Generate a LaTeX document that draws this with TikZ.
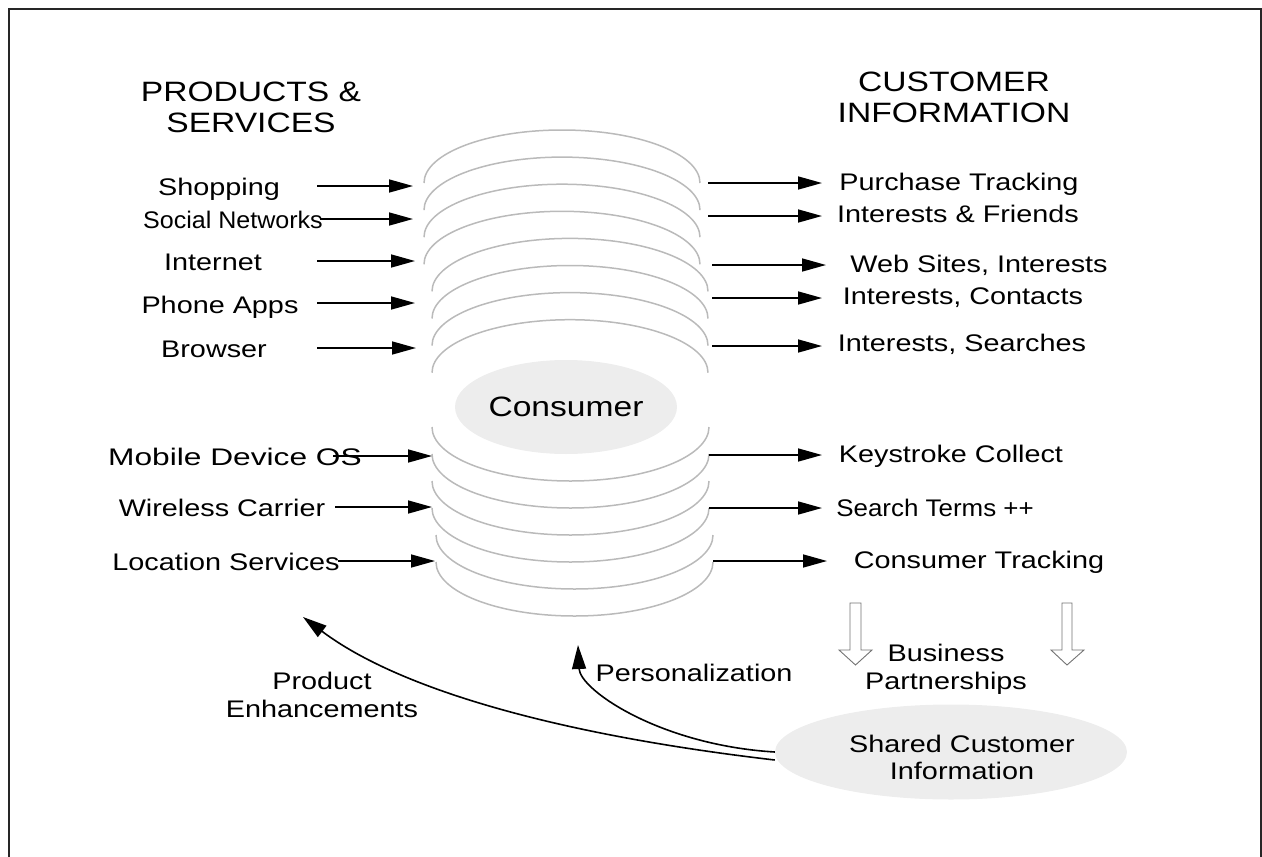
\documentclass[tikz,border=0pt]{standalone}
\usepackage{fontspec}
\setmainfont{Liberation Sans}[FakeStretch=1.2]
\usetikzlibrary{arrows.meta,shapes.geometric,calc}

\begin{document}
\begin{tikzpicture}[x=1pt,y=-1pt,
  conn/.style={line width=1.6pt,-{Triangle[length=24pt,width=13pt]}},
  curv/.style={line width=1.6pt,-{Triangle[length=24pt,width=14pt]}},
  lbl/.style={font=\fontsize{24}{28}\selectfont,anchor=mid,inner sep=0pt,yshift=-6pt},
  blocklbl/.style={font=\fontsize{24}{28}\selectfont,align=center,inner sep=0pt},
  heading/.style={font=\fontsize{28}{31}\selectfont,align=center,inner sep=0pt},
  disk/.style={draw=black!27,line width=1.5pt},
  blob/.style={ellipse,fill=black!7,inner sep=0pt},
  hollow/.style={draw=black!55,fill=white,line width=0.9pt},
  frame/.style={draw=black!85,line width=2pt}
]
\useasboundingbox (0,0) rectangle (1262,857);
\clip (0,0) rectangle (1262,857);

% outer frame (runs past the lower edge)
\draw[frame] (9,9) rectangle (1261,900);

% headings
\node[heading] (ps) at (251,107.5) {PRODUCTS \&\\SERVICES};
\node[heading] (ci) at (954,97) {CUSTOMER\\INFORMATION};

% upper half of the stack: tops of the disks
\foreach \i in {0,...,7}{
  \pgfmathsetmacro{\yy}{183+27.1*\i}
  \pgfmathsetmacro{\xl}{\i<4 ? 424 : 432}
  \draw[disk] (\xl,\yy) arc[start angle=180,end angle=360,x radius=138,y radius=53];
}
% lower half of the stack: bottoms of the disks
\foreach \i in {0,...,5}{
  \pgfmathsetmacro{\yy}{427+27*\i}
  \pgfmathsetmacro{\xl}{\i<4 ? 432 : 436}
  \draw[disk] (\xl,\yy) arc[start angle=180,end angle=0,x radius=138.5,y radius=54];
}

% centre of the stack
\node[blob,minimum width=222pt,minimum height=94pt,font=\fontsize{28}{32}\selectfont] (cons) at (566,407) {Consumer};

% products and services
\node[lbl] (shop) at (219,187) {Shopping};
\node[lbl,xscale=0.87,transform shape] (soc) at (233,220) {Social Networks};
\node[lbl] (inet) at (213,262) {Internet};
\node[lbl] (apps) at (220,305) {Phone Apps};
\node[lbl] (brow) at (214,349) {Browser};
\node[lbl,xscale=1.1,transform shape] (mos) at (235,457) {Mobile Device OS};
\node[lbl] (wire) at (222,508) {Wireless Carrier};
\node[lbl] (loc)  at (226,562) {Location Services};

% customer information
\node[lbl] (pur)  at (959,182) {Purchase Tracking};
\node[lbl] (frn)  at (958,214) {Interests \& Friends};
\node[lbl] (web)  at (979,264) {Web Sites, Interests};
\node[lbl] (cont) at (963,296) {Interests, Contacts};
\node[lbl] (srch) at (962,343) {Interests, Searches};
\node[lbl] (key)  at (951,454) {Keystroke Collect};
\node[lbl,xscale=0.9,transform shape] (term) at (935,508) {Search Terms ++};
\node[lbl] (trk)  at (979,560) {Consumer Tracking};

% inbound arrows
\foreach \n/\xa/\xb/\yy in {1/317/413/186, 2/320/413/219, 3/317/415/261, 4/317/415/303,
                            5/317/416/348, 6/333/432/456, 7/335/432/507, 8/338/435/561}{
  \coordinate (in\n a) at (\xa,\yy);
  \coordinate (in\n b) at (\xb,\yy);
  \draw[conn] (in\n a) -- (in\n b);
}
% outbound arrows
\foreach \n/\xa/\xb/\yy in {1/708/822/183, 2/708/822/216, 3/712/826/265, 4/712/822/298,
                            5/712/822/346, 6/709/822/455, 7/709/822/508, 8/713/827/561}{
  \coordinate (out\n a) at (\xa,\yy);
  \coordinate (out\n b) at (\xb,\yy);
  \draw[conn] (out\n a) -- (out\n b);
}

% hollow down arrows
\draw[hollow] (850,603) -- (861,603) -- (861,650) -- (872,650) -- (855.5,665)
  -- (839,650) -- (850,650) -- cycle;
\draw[hollow] (1062,603) -- (1072,603) -- (1072,650) -- (1084,650) -- (1067,665)
  -- (1051,650) -- (1062,650) -- cycle;
\node[blocklbl] (biz) at (946,669) {Business\\Partnerships};

% shared information
\node[blob,minimum width=352pt,minimum height=95pt] (sci) at (951,752) {};
\node[blocklbl,font=\fontsize{24}{27}\selectfont] (scit) at (962,757) {Shared Customer\\Information};

% feedback arrows
\coordinate (pe) at (303,617);
\coordinate (pz) at (578,645);
\draw[curv] ([yshift=-8pt]sci.west) .. controls (560,735) and (400,690) .. (pe);
\draw[curv] (sci.west) .. controls (660,745) and (580,690) .. (pz);
\node[blocklbl] (prod) at (322,695) {Product\\Enhancements};
\node[lbl] (pers) at (694,673) {Personalization};

\end{tikzpicture}
\end{document}
